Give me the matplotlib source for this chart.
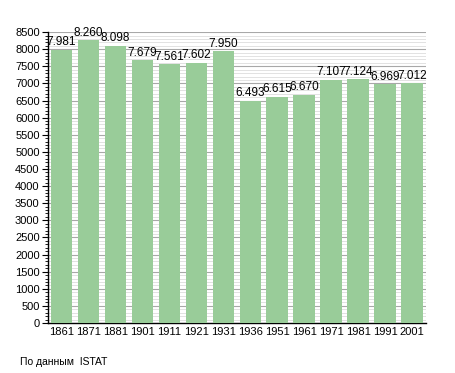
import matplotlib
matplotlib.use("Agg")
import matplotlib.pyplot as plt
from matplotlib.ticker import MultipleLocator

plt.rcParams['font.family'] = ['Liberation Sans', 'DejaVu Sans']

# Population by census year
years = ["1861", "1871", "1881", "1901", "1911", "1921", "1931",
         "1936", "1951", "1961", "1971", "1981", "1991", "2001"]
population = [7981, 8260, 8098, 7679, 7561, 7602, 7950,
              6493, 6615, 6670, 7107, 7124, 6969, 7012]

BAR_COLOR = "#99cc99"

fig = plt.figure(figsize=(4.55, 3.73), dpi=100)
ax = fig.add_axes([0.1055, 0.134, 0.83, 0.78])

x = list(range(len(years)))
ax.bar(x, population, width=0.8, color=BAR_COLOR, zorder=3)

# value labels with dot as thousands separator
for xi, v in zip(x, population):
    ax.text(xi, v + 40, f"{v:,}".replace(",", "."), ha="center", va="bottom",
            fontsize=8.5, color="#000000", zorder=4)

ax.set_xlim(-0.5, len(years) - 0.5)
ax.set_ylim(0, 8500)
ax.set_xticks(x)
ax.set_xticklabels(years)

ax.yaxis.set_major_locator(MultipleLocator(500))
ax.yaxis.set_minor_locator(MultipleLocator(100))
ax.grid(axis="y", which="major", color="#a8a8a8", linewidth=0.8, zorder=0)
ax.grid(axis="y", which="minor", color="#dddddd", linewidth=0.6, zorder=0)

ax.tick_params(axis="y", which="major", length=4, width=0.8, labelsize=8, pad=2)
ax.tick_params(axis="y", which="minor", length=2, width=0.6)
ax.tick_params(axis="x", length=0, labelsize=8, pad=3)

for side in ("top", "right"):
    ax.spines[side].set_visible(False)
ax.spines["left"].set_linewidth(1.0)
ax.spines["bottom"].set_linewidth(1.0)

fig.text(20 / 455, 1 - 362 / 373, "По данным  ISTAT", fontsize=7.5,
         ha="left", va="center")

fig.savefig("out.png", dpi=100)
